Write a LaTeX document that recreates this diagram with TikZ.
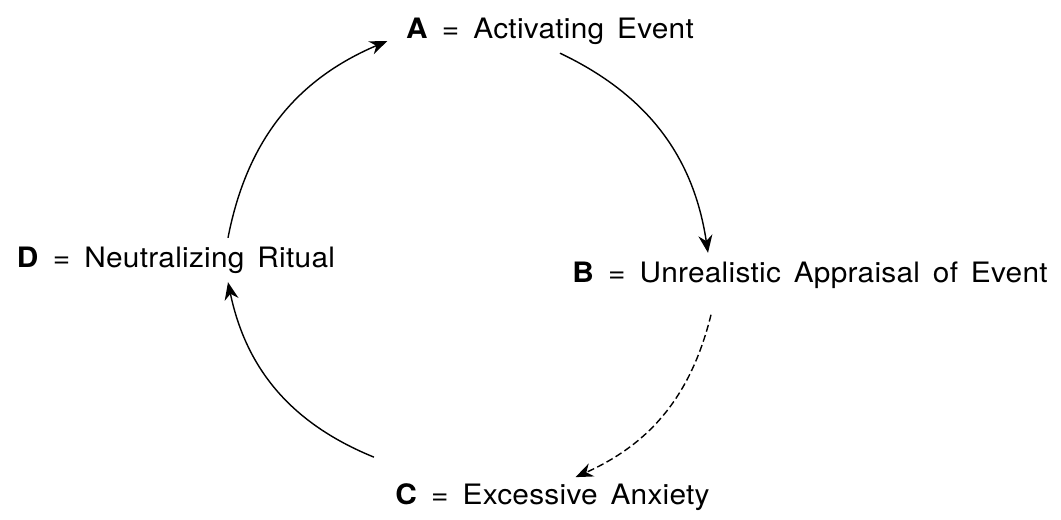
\documentclass[tikz,border=0pt]{standalone}
\usepackage{fontspec}
\setmainfont[FakeStretch=1.06, LetterSpace=1, WordSpace=1.5]{TeX Gyre Heros}
\usetikzlibrary{arrows.meta}
\newcommand{\eqsign}{\hspace{0.5em}=\hspace{0.5em}}

\begin{document}
\begin{tikzpicture}[every node/.style={font=\fontsize{16}{19}\selectfont, inner sep=2pt},
  cyc/.style={thick, -{Stealth[length=10pt,width=8pt]}}]
\useasboundingbox (0,0) rectangle (21.22,10.38);
% the four stages
\node (a) at (11.0,9.76) {\textbf{A}\eqsign Activating Event};
\node (b) at (16.2,4.88) {\textbf{B}\eqsign Unrealistic Appraisal of Event};
\node (c) at (11.05,0.44) {\textbf{C}\eqsign Excessive Anxiety};
\node (d) at (3.52,5.18) {\textbf{D}\eqsign Neutralizing Ritual};

% the cycle
\draw [cyc] ([xshift=1.04cm,yshift=0.1cm]d.north) to[bend left=28] ([xshift=-0.3cm,yshift=-0.2cm]a.west);
\draw [cyc] ([xshift=0.2cm,yshift=-0.1cm]a.south) to[bend left=28] ([xshift=-2.04cm,yshift=0.1cm]b.north);
\draw [cyc, dash pattern=on 4pt off 2pt] ([xshift=-1.98cm,yshift=-0.45cm]b.south) to[bend left=26] ([xshift=0.46cm,yshift=0.05cm]c.north);
\draw [cyc] ([xshift=-0.35cm,yshift=0.45cm]c.north west) to[bend left=28] ([xshift=1.04cm,yshift=-0.1cm]d.south);
\end{tikzpicture}
\end{document}
